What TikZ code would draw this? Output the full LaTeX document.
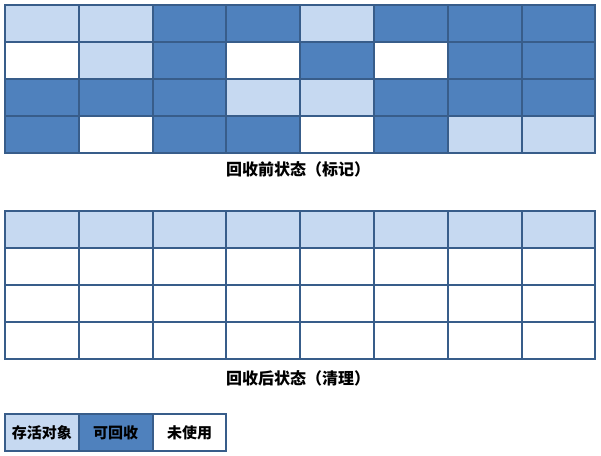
\documentclass[tikz,border=0pt]{standalone}
\usepackage{fontspec}
\newfontfamily\cjk{Noto Sans CJK SC}
\definecolor{cL}{HTML}{C6D9F1}
\definecolor{cD}{HTML}{4F81BD}
\definecolor{cW}{HTML}{FFFFFF}
\definecolor{bordc}{HTML}{385D8A}
\begin{document}
\begin{tikzpicture}[x=1pt,y=-1pt,
  cell/.style={draw=bordc, line width=2pt, minimum width=73.8pt, minimum height=37pt, inner sep=0pt, outer sep=0pt},
  lbl/.style={font=\cjk\bfseries\fontsize{15}{18}\selectfont, text=black},
  captext/.style={font=\cjk\bfseries\fontsize{16}{19}\selectfont, text=black}]
\useasboundingbox (0,0) rectangle (601,455);
% top grid (before collection)
\foreach [count=\i from 0] \t in {L,L,D,D,L,D,D,D, W,L,D,W,D,W,D,D, D,D,D,L,L,D,D,D, D,W,D,D,W,D,L,L}{
  \pgfmathtruncatemacro\r{int(\i/8)}
  \pgfmathtruncatemacro\c{mod(\i,8)}
  \node[cell, fill=c\t] (a-\r-\c) at ({5+73.8*(\c+0.5)},{5+37*(\r+0.5)}) {};
}
\node[captext] (cap1) at (298,169) {回收前状态（标记）};
% bottom grid (after collection)
\foreach [count=\i from 0] \t in {L,L,L,L,L,L,L,L, W,W,W,W,W,W,W,W, W,W,W,W,W,W,W,W, W,W,W,W,W,W,W,W}{
  \pgfmathtruncatemacro\r{int(\i/8)}
  \pgfmathtruncatemacro\c{mod(\i,8)}
  \node[cell, fill=c\t] (b-\r-\c) at ({5+73.8*(\c+0.5)},{211+37*(\r+0.5)}) {};
}
\node[captext] (cap2) at (298,378) {回收后状态（清理）};
% legend
\node[cell, fill=cL, lbl] (leg1) at ({5+73.8*0.5},432.5) {存活对象};
\node[cell, fill=cD, lbl] (leg2) at ({5+73.8*1.5},432.5) {可回收};
\node[cell, fill=cW, lbl] (leg3) at ({5+73.8*2.5},432.5) {未使用};
\end{tikzpicture}
\end{document}
